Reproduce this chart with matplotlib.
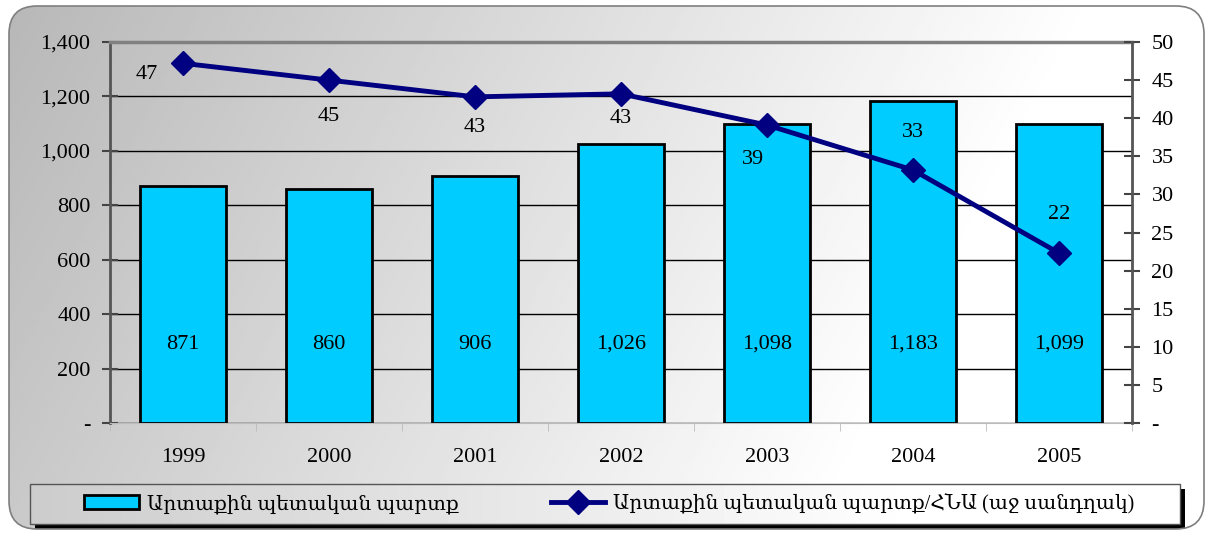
import numpy as np
import matplotlib
matplotlib.use("Agg")
import matplotlib.pyplot as plt
from matplotlib.patches import FancyBboxPatch, Rectangle

plt.rcParams['font.family'] = ['Liberation Serif', 'DejaVu Serif']
plt.rcParams['font.size'] = 16

years = ['1999', '2000', '2001', '2002', '2003', '2004', '2005']
debt = [871, 860, 906, 1026, 1098, 1183, 1099]
debt_gdp = [47.2, 45.0, 42.8, 43.2, 39.1, 33.2, 22.3]
debt_gdp_labels = ['47', '45', '43', '43', '39', '33', '22']
label_bar = 'Արտաքին պետական պարտք'
label_line = 'Արտաքին պետական պարտք/ՀՆԱ (աջ սանդղակ)'

W, H = 1213, 539
fig = plt.figure(figsize=(W / 100, H / 100), dpi=100)

# background with rounded frame and grey->white gradient
bg = fig.add_axes([0, 0, 1, 1], zorder=-5)
bg.set_xlim(0, W)
bg.set_ylim(H, 0)
bg.axis('off')
gx = np.linspace(0, 1, 400)
gy = np.linspace(0, 1, 200)
GX, GY = np.meshgrid(gx, gy)
grad = 0.72 + 0.28 * np.clip(GX * 1.1 + GY * 0.25, 0, 1)
frame = FancyBboxPatch((9, 6), 1195, 523, boxstyle="round,pad=0,rounding_size=28",
                       fc='none', ec='#7f7f7f', lw=1.2, zorder=3)
bg.add_patch(frame)
im = bg.imshow(grad, cmap='gray', vmin=0, vmax=1, extent=[9, 1204, 529, 6],
               aspect='auto', zorder=1)
im.set_clip_path(frame)
# legend box with shadow
bg.add_patch(Rectangle((35, 489), 1150, 40, fc='black', ec='none', zorder=2))
lgrad = 0.80 + 0.2 * np.clip(np.linspace(0, 1, 300)[None, :] * 1.3, 0, 1)
bg.imshow(lgrad, cmap='gray', vmin=0, vmax=1, extent=[30, 1180, 524, 484],
          aspect='auto', zorder=2.5)
bg.add_patch(Rectangle((30, 484), 1150, 40, fc='none', ec='#555555', lw=1, zorder=2.6))

ax = fig.add_axes([110 / W, (H - 423) / H, 1022 / W, 381 / H])
ax.set_facecolor('none')
x = np.arange(len(years))
bars = ax.bar(x, debt, width=0.59, color='#00ccff', edgecolor='black', lw=2,
              zorder=3, label=label_bar)
ax.set_xlim(-0.5, len(years) - 0.5)
ax.set_ylim(0, 1400)
ax.set_yticks(range(0, 1401, 200))
ax.set_yticklabels(['-'] + [f'{v:,}' for v in range(200, 1401, 200)])
ax.yaxis.grid(True, color='black', lw=1)
ax.set_axisbelow(True)
ax.set_xticks(x)
ax.set_xticklabels(years)
ax.set_xticks(np.arange(-0.5, len(years)), minor=True)
ax.tick_params(axis='x', which='major', length=0, pad=18)
ax.tick_params(axis='x', which='minor', length=6, color='#bbbbbb')
ax.tick_params(axis='y', direction='inout', length=12, width=1.5, color='#444444', pad=8)
ax.spines['left'].set_color('#555555')
ax.spines['left'].set_linewidth(2)
ax.spines['top'].set_color('#808080')
ax.spines['top'].set_linewidth(2.5)
ax.spines['bottom'].set_color('#bbbbbb')
ax.spines['right'].set_visible(False)
for xi, v in zip(x, debt):
    ax.text(xi, 290, f'{v:,}', ha='center', va='center', zorder=5)

ax2 = ax.twinx()
ax2.set_ylim(0, 50)
ax2.set_yticks(range(0, 51, 5))
ax2.set_yticklabels(['-'] + [str(v) for v in range(5, 51, 5)])
ax2.tick_params(axis='y', direction='inout', length=12, width=1.5, color='#444444', pad=8)
for s in ['left', 'top', 'bottom']:
    ax2.spines[s].set_visible(False)
ax2.spines['right'].set_color('#555555')
ax2.spines['right'].set_linewidth(2)
ax2.plot(x, debt_gdp, color='#000080', lw=3.5, marker='D', ms=12, zorder=6,
         label=label_line)
offsets = [(-26, -8), (0, -26), (0, -22), (0, -18), (-10, -25), (0, 27), (0, 28)]
for xi, v, t, (dx, dy) in zip(x, debt_gdp, debt_gdp_labels, offsets):
    ax2.annotate(t, (xi, v), xytext=(dx, dy), textcoords='offset points',
                 ha='center', va='center', zorder=7)

handles = [bars, ax2.lines[0]]
fig.legend(handles, [label_bar, label_line], loc='center left',
           bbox_to_anchor=(66 / W, (H - 504) / H), ncol=2, frameon=False,
           columnspacing=4.6, handlelength=2.7, handletextpad=0.4, fontsize=14.5)

fig.savefig('out.png', dpi=100)
